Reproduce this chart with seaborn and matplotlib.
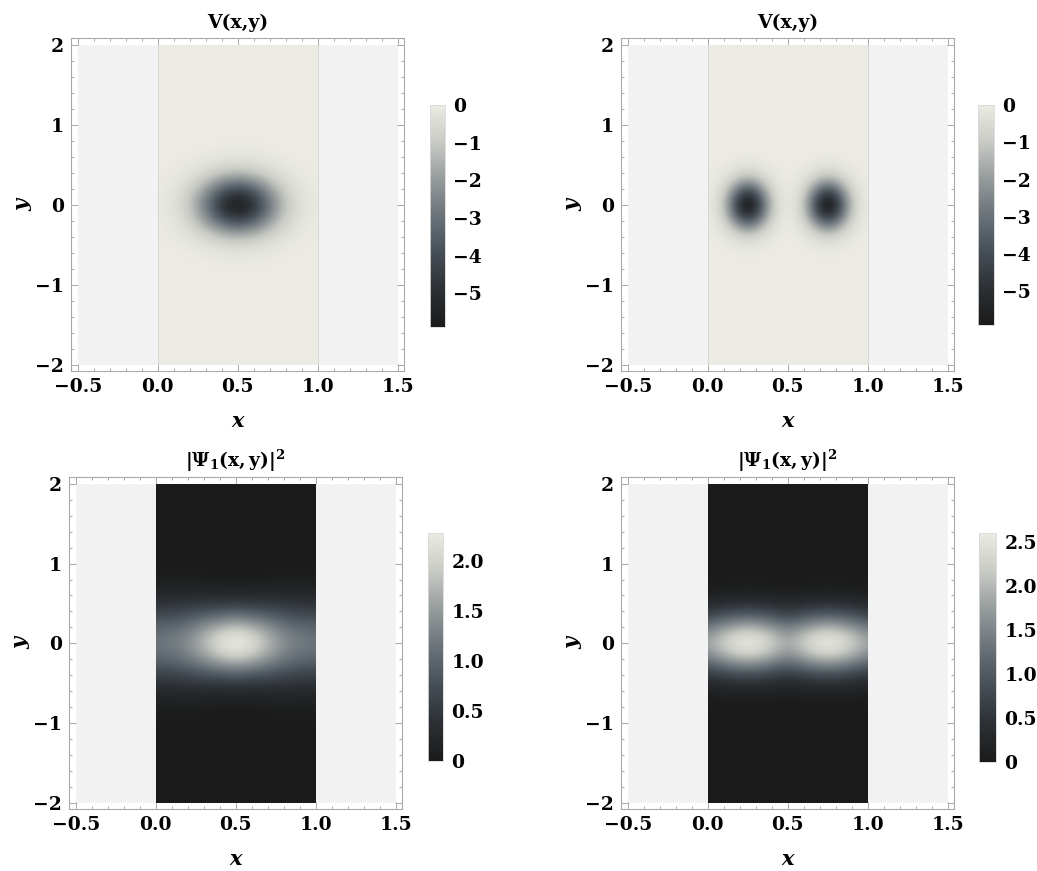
import numpy as np
import matplotlib
matplotlib.use("Agg")
import matplotlib.pyplot as plt
import seaborn as sns
from matplotlib.patches import Rectangle
from matplotlib.colors import Normalize
from matplotlib.cm import ScalarMappable

sns.set_theme(style="ticks")
plt.rcParams["font.family"] = ["DejaVu Serif", "DejaVu Sans"]
plt.rcParams["mathtext.fontset"] = "dejavuserif"
plt.rcParams["text.color"] = "black"
plt.rcParams["axes.labelcolor"] = "black"
plt.rcParams["xtick.labelcolor"] = "black"
plt.rcParams["ytick.labelcolor"] = "black"

# ---------------- data ----------------
# Panel 1: V(x,y), single well (rows = y ascending)
v1_x = [0.0, 0.1, 0.2, 0.3, 0.4, 0.5, 0.6, 0.7, 0.8, 0.9, 1.0]
v1_y = [-0.9, -0.8, -0.7, -0.6, -0.5, -0.4, -0.3, -0.2, -0.1, 0.0,
        0.1, 0.2, 0.3, 0.4, 0.5, 0.6, 0.7, 0.8, 0.9]
v1_z = [
    [0.00, 0.00, 0.00, 0.00, 0.00, 0.00, 0.00, 0.00, 0.00, 0.00, 0.00],
    [0.00, 0.00, 0.00, -0.01, -0.02, -0.02, -0.02, -0.01, 0.00, 0.00, 0.00],
    [0.00, 0.00, -0.01, -0.04, -0.07, -0.08, -0.07, -0.04, -0.01, 0.00, 0.00],
    [0.00, -0.01, -0.04, -0.12, -0.21, -0.26, -0.21, -0.12, -0.04, -0.01, 0.00],
    [-0.01, -0.03, -0.11, -0.30, -0.54, -0.66, -0.54, -0.30, -0.11, -0.03, -0.01],
    [-0.01, -0.06, -0.25, -0.66, -1.19, -1.44, -1.19, -0.66, -0.25, -0.06, -0.01],
    [-0.02, -0.12, -0.46, -1.22, -2.19, -2.66, -2.19, -1.22, -0.46, -0.12, -0.02],
    [-0.03, -0.18, -0.71, -1.88, -3.37, -4.10, -3.37, -1.88, -0.71, -0.18, -0.03],
    [-0.04, -0.23, -0.92, -2.44, -4.38, -5.32, -4.38, -2.44, -0.92, -0.23, -0.04],
    [-0.04, -0.26, -1.00, -2.66, -4.77, -5.80, -4.77, -2.66, -1.00, -0.26, -0.04],
    [-0.04, -0.23, -0.92, -2.44, -4.38, -5.32, -4.38, -2.44, -0.92, -0.23, -0.04],
    [-0.03, -0.18, -0.71, -1.88, -3.37, -4.10, -3.37, -1.88, -0.71, -0.18, -0.03],
    [-0.02, -0.12, -0.46, -1.22, -2.19, -2.66, -2.19, -1.22, -0.46, -0.12, -0.02],
    [-0.01, -0.06, -0.25, -0.66, -1.19, -1.44, -1.19, -0.66, -0.25, -0.06, -0.01],
    [-0.01, -0.03, -0.11, -0.30, -0.54, -0.66, -0.54, -0.30, -0.11, -0.03, -0.01],
    [0.00, -0.01, -0.04, -0.12, -0.21, -0.26, -0.21, -0.12, -0.04, -0.01, 0.00],
    [0.00, 0.00, -0.01, -0.04, -0.07, -0.08, -0.07, -0.04, -0.01, 0.00, 0.00],
    [0.00, 0.00, 0.00, -0.01, -0.02, -0.02, -0.02, -0.01, 0.00, 0.00, 0.00],
    [0.00, 0.00, 0.00, 0.00, 0.00, 0.00, 0.00, 0.00, 0.00, 0.00, 0.00],
]

# Panel 2: V(x,y), double well
v2_x = [0.0, 0.05, 0.1, 0.15, 0.2, 0.25, 0.3, 0.35, 0.4, 0.45, 0.5,
        0.55, 0.6, 0.65, 0.7, 0.75, 0.8, 0.85, 0.9, 0.95, 1.0]
v2_y = [-0.8, -0.7, -0.6, -0.5, -0.4, -0.3, -0.2, -0.1, 0.0,
        0.1, 0.2, 0.3, 0.4, 0.5, 0.6, 0.7, 0.8]
v2_z = [
    [0, 0, 0, 0, 0, 0, 0, 0, 0, 0, 0, 0, 0, 0, 0, 0, 0, 0, 0, 0, 0],
    [0, 0, 0, -0.01, -0.01, -0.01, -0.01, -0.01, 0, 0, 0, 0, 0, -0.01, -0.01, -0.01, -0.01, -0.01, 0, 0, 0],
    [0, 0, -0.01, -0.03, -0.05, -0.06, -0.05, -0.03, -0.01, 0, 0, 0, -0.01, -0.03, -0.05, -0.06, -0.05, -0.03, -0.01, 0, 0],
    [0, -0.02, -0.05, -0.13, -0.21, -0.26, -0.21, -0.13, -0.05, -0.02, -0.01, -0.02, -0.05, -0.13, -0.21, -0.26, -0.21, -0.13, -0.05, -0.02, 0],
    [-0.01, -0.05, -0.16, -0.39, -0.66, -0.78, -0.66, -0.39, -0.16, -0.05, -0.02, -0.05, -0.16, -0.39, -0.66, -0.78, -0.66, -0.39, -0.16, -0.05, -0.01],
    [-0.03, -0.12, -0.40, -0.94, -1.59, -1.89, -1.59, -0.94, -0.40, -0.12, -0.05, -0.12, -0.40, -0.94, -1.59, -1.89, -1.59, -0.94, -0.40, -0.12, -0.03],
    [-0.05, -0.22, -0.74, -1.76, -2.96, -3.52, -2.96, -1.76, -0.74, -0.22, -0.09, -0.22, -0.74, -1.76, -2.96, -3.52, -2.96, -1.76, -0.74, -0.22, -0.05],
    [-0.07, -0.32, -1.08, -2.56, -4.30, -5.12, -4.30, -2.56, -1.08, -0.32, -0.13, -0.32, -1.08, -2.56, -4.30, -5.12, -4.30, -2.56, -1.08, -0.32, -0.07],
    [-0.08, -0.36, -1.22, -2.90, -4.88, -5.80, -4.88, -2.90, -1.22, -0.36, -0.15, -0.36, -1.22, -2.90, -4.88, -5.80, -4.88, -2.90, -1.22, -0.36, -0.08],
    [-0.07, -0.32, -1.08, -2.56, -4.30, -5.12, -4.30, -2.56, -1.08, -0.32, -0.13, -0.32, -1.08, -2.56, -4.30, -5.12, -4.30, -2.56, -1.08, -0.32, -0.07],
    [-0.05, -0.22, -0.74, -1.76, -2.96, -3.52, -2.96, -1.76, -0.74, -0.22, -0.09, -0.22, -0.74, -1.76, -2.96, -3.52, -2.96, -1.76, -0.74, -0.22, -0.05],
    [-0.03, -0.12, -0.40, -0.94, -1.59, -1.89, -1.59, -0.94, -0.40, -0.12, -0.05, -0.12, -0.40, -0.94, -1.59, -1.89, -1.59, -0.94, -0.40, -0.12, -0.03],
    [-0.01, -0.05, -0.16, -0.39, -0.66, -0.78, -0.66, -0.39, -0.16, -0.05, -0.02, -0.05, -0.16, -0.39, -0.66, -0.78, -0.66, -0.39, -0.16, -0.05, -0.01],
    [0, -0.02, -0.05, -0.13, -0.21, -0.26, -0.21, -0.13, -0.05, -0.02, -0.01, -0.02, -0.05, -0.13, -0.21, -0.26, -0.21, -0.13, -0.05, -0.02, 0],
    [0, 0, -0.01, -0.03, -0.05, -0.06, -0.05, -0.03, -0.01, 0, 0, 0, -0.01, -0.03, -0.05, -0.06, -0.05, -0.03, -0.01, 0, 0],
    [0, 0, 0, -0.01, -0.01, -0.01, -0.01, -0.01, 0, 0, 0, 0, 0, -0.01, -0.01, -0.01, -0.01, -0.01, 0, 0, 0],
    [0, 0, 0, 0, 0, 0, 0, 0, 0, 0, 0, 0, 0, 0, 0, 0, 0, 0, 0, 0, 0],
]

# Panel 3: |Psi_1|^2 for the single well
p1_x = [0.0, 0.1, 0.2, 0.3, 0.4, 0.5, 0.6, 0.7, 0.8, 0.9, 1.0]
p1_y = [-1.0, -0.9, -0.8, -0.7, -0.6, -0.5, -0.4, -0.3, -0.2, -0.1, 0.0,
        0.1, 0.2, 0.3, 0.4, 0.5, 0.6, 0.7, 0.8, 0.9, 1.0]
p1_z = [
    [0.02, 0.02, 0.02, 0.01, 0.01, 0.01, 0.01, 0.01, 0.02, 0.02, 0.02],
    [0.04, 0.04, 0.04, 0.03, 0.02, 0.03, 0.02, 0.03, 0.04, 0.04, 0.04],
    [0.08, 0.09, 0.09, 0.08, 0.06, 0.07, 0.06, 0.08, 0.09, 0.09, 0.08],
    [0.16, 0.16, 0.17, 0.16, 0.14, 0.15, 0.14, 0.16, 0.17, 0.16, 0.16],
    [0.26, 0.28, 0.29, 0.30, 0.28, 0.31, 0.28, 0.30, 0.29, 0.28, 0.26],
    [0.41, 0.43, 0.47, 0.51, 0.52, 0.57, 0.52, 0.51, 0.47, 0.43, 0.41],
    [0.60, 0.62, 0.69, 0.79, 0.86, 0.94, 0.86, 0.79, 0.69, 0.62, 0.60],
    [0.80, 0.83, 0.94, 1.11, 1.27, 1.38, 1.27, 1.11, 0.94, 0.83, 0.80],
    [0.98, 1.02, 1.16, 1.42, 1.68, 1.83, 1.68, 1.42, 1.16, 1.02, 0.98],
    [1.10, 1.15, 1.32, 1.64, 1.99, 2.16, 1.99, 1.64, 1.32, 1.15, 1.10],
    [1.15, 1.20, 1.38, 1.72, 2.10, 2.28, 2.10, 1.72, 1.38, 1.20, 1.15],
    [1.10, 1.15, 1.32, 1.64, 1.99, 2.16, 1.99, 1.64, 1.32, 1.15, 1.10],
    [0.98, 1.02, 1.16, 1.42, 1.68, 1.83, 1.68, 1.42, 1.16, 1.02, 0.98],
    [0.80, 0.83, 0.94, 1.11, 1.27, 1.38, 1.27, 1.11, 0.94, 0.83, 0.80],
    [0.60, 0.62, 0.69, 0.79, 0.86, 0.94, 0.86, 0.79, 0.69, 0.62, 0.60],
    [0.41, 0.43, 0.47, 0.51, 0.52, 0.57, 0.52, 0.51, 0.47, 0.43, 0.41],
    [0.26, 0.28, 0.29, 0.30, 0.28, 0.31, 0.28, 0.30, 0.29, 0.28, 0.26],
    [0.16, 0.16, 0.17, 0.16, 0.14, 0.15, 0.14, 0.16, 0.17, 0.16, 0.16],
    [0.08, 0.09, 0.09, 0.08, 0.06, 0.07, 0.06, 0.08, 0.09, 0.09, 0.08],
    [0.04, 0.04, 0.04, 0.03, 0.02, 0.03, 0.02, 0.03, 0.04, 0.04, 0.04],
    [0.02, 0.02, 0.02, 0.01, 0.01, 0.01, 0.01, 0.01, 0.02, 0.02, 0.02],
]

# Panel 4: |Psi_1|^2 for the double well
p2_x = [0.0, 0.125, 0.25, 0.375, 0.5, 0.625, 0.75, 0.875, 1.0]
p2_y = [-0.9, -0.8, -0.7, -0.6, -0.5, -0.4, -0.3, -0.2, -0.1, 0.0,
        0.1, 0.2, 0.3, 0.4, 0.5, 0.6, 0.7, 0.8, 0.9]
p2_z = [
    [0.01, 0.01, 0.01, 0.01, 0.01, 0.01, 0.01, 0.01, 0.01],
    [0.02, 0.03, 0.03, 0.03, 0.02, 0.03, 0.03, 0.03, 0.02],
    [0.06, 0.08, 0.09, 0.08, 0.06, 0.08, 0.09, 0.08, 0.06],
    [0.15, 0.19, 0.22, 0.19, 0.15, 0.19, 0.22, 0.19, 0.15],
    [0.32, 0.41, 0.47, 0.41, 0.32, 0.41, 0.47, 0.41, 0.32],
    [0.58, 0.77, 0.87, 0.77, 0.58, 0.77, 0.87, 0.77, 0.58],
    [0.94, 1.24, 1.40, 1.24, 0.94, 1.24, 1.40, 1.24, 0.94],
    [1.33, 1.75, 1.98, 1.75, 1.33, 1.75, 1.98, 1.75, 1.33],
    [1.63, 2.15, 2.43, 2.15, 1.63, 2.15, 2.43, 2.15, 1.63],
    [1.75, 2.30, 2.60, 2.30, 1.75, 2.30, 2.60, 2.30, 1.75],
    [1.63, 2.15, 2.43, 2.15, 1.63, 2.15, 2.43, 2.15, 1.63],
    [1.33, 1.75, 1.98, 1.75, 1.33, 1.75, 1.98, 1.75, 1.33],
    [0.94, 1.24, 1.40, 1.24, 0.94, 1.24, 1.40, 1.24, 0.94],
    [0.58, 0.77, 0.87, 0.77, 0.58, 0.77, 0.87, 0.77, 0.58],
    [0.32, 0.41, 0.47, 0.41, 0.32, 0.41, 0.47, 0.41, 0.32],
    [0.15, 0.19, 0.22, 0.19, 0.15, 0.19, 0.22, 0.19, 0.15],
    [0.06, 0.08, 0.09, 0.08, 0.06, 0.08, 0.09, 0.08, 0.06],
    [0.02, 0.03, 0.03, 0.03, 0.02, 0.03, 0.03, 0.03, 0.02],
    [0.01, 0.01, 0.01, 0.01, 0.01, 0.01, 0.01, 0.01, 0.01],
]

x_ticks = [-0.5, 0.0, 0.5, 1.0, 1.5]
x_tick_labels = ["\u22120.5", "0.0", "0.5", "1.0", "1.5"]
y_ticks = [-2, -1, 0, 1, 2]
y_tick_labels = ["\u22122", "\u22121", "0", "1", "2"]
v_cticks = [0, -1, -2, -3, -4, -5]
v_clabels = ["0", "\u22121", "\u22122", "\u22123", "\u22124", "\u22125"]
p1_cticks = [0, 0.5, 1.0, 1.5, 2.0]
p1_clabels = ["0", "0.5", "1.0", "1.5", "2.0"]
p2_cticks = [0, 0.5, 1.0, 1.5, 2.0, 2.5]
p2_clabels = ["0", "0.5", "1.0", "1.5", "2.0", "2.5"]

# Mathematica-like "GrayTones"
cmap = sns.blend_palette(["#1a1a1a", "#2c3034", "#464e56", "#6a7379",
                          "#969b9c", "#c8cac4", "#ebebe3"], n_colors=256, as_cmap=True)

W, H = 1037, 871
fig = plt.figure(figsize=(W / 100, H / 100), dpi=100)
FS = 13.5
FRAME = "#a9a9a9"


def px_axes(left, top, right, bottom):
    return fig.add_axes([left / W, 1 - bottom / H, (right - left) / W, (bottom - top) / H])


def panel(ax, cax, xs, ys, z, vmin, vmax, bg, title, cticks, clabels, edge_lines):
    norm = Normalize(vmin=vmin, vmax=vmax)
    xs = np.asarray(xs); ys = np.asarray(ys)
    dx = xs[1] - xs[0]; dy = ys[1] - ys[0]
    ax.set_facecolor("white")
    ax.add_patch(Rectangle((-0.5, -2), 2, 4, facecolor="#f2f2f2", edgecolor="none", zorder=0))
    ax.add_patch(Rectangle((0, -2), 1, 4, facecolor=cmap(norm(bg)), edgecolor="none", zorder=1))
    im = ax.imshow(np.asarray(z, dtype=float), origin="lower",
                   extent=[xs[0] - dx / 2, xs[-1] + dx / 2, ys[0] - dy / 2, ys[-1] + dy / 2],
                   cmap=cmap, norm=norm, interpolation="bicubic",
                   interpolation_stage="data", aspect="auto", zorder=2)
    im.set_clip_path(Rectangle((0, -2), 1, 4, transform=ax.transData))
    if edge_lines:
        ax.vlines([0, 1], -2, 2, colors="#d6d6d2", linewidth=0.7, zorder=3)
    ax.set_xlim(-0.5 - 7 / 160, 1.5 + 6.5 / 160)
    ax.set_ylim(-2 - 6.5 / 80, 2 + 7 / 80)
    ax.set_xticks(x_ticks)
    ax.set_xticklabels(x_tick_labels)
    ax.set_yticks(y_ticks)
    ax.set_yticklabels(y_tick_labels)
    ax.set_xticks(np.arange(-0.5, 1.51, 0.1), minor=True)
    ax.set_yticks(np.arange(-2, 2.01, 0.2), minor=True)
    ax.tick_params(which="both", direction="in", top=True, right=True,
                   color=FRAME, width=0.7)
    ax.tick_params(which="major", length=5, pad=5, labelsize=FS, labelcolor="black")
    ax.tick_params(which="minor", length=2.5)
    for lab in ax.get_xticklabels() + ax.get_yticklabels():
        lab.set_fontweight("bold")
    for s in ax.spines.values():
        s.set_color(FRAME)
        s.set_linewidth(0.8)
    ax.set_title(title, fontsize=13.5, fontweight="bold", pad=7, color="black")
    ax.set_xlabel("x", fontsize=15, fontweight="bold", fontstyle="italic", labelpad=11)
    ax.set_ylabel("y", fontsize=15, fontweight="bold", fontstyle="italic")
    ax.yaxis.set_label_coords(-0.117, 0.5)

    cb = fig.colorbar(ScalarMappable(norm=norm, cmap=cmap), cax=cax)
    cb.outline.set_edgecolor("#d8d8d8")
    cb.outline.set_linewidth(0.6)
    cb.set_ticks(cticks)
    cb.set_ticklabels(clabels)
    cax.tick_params(length=0, pad=6, labelsize=FS, labelcolor="black")
    for lab in cax.get_yticklabels():
        lab.set_fontweight("bold")


psi_title = r"$\mathbf{|\Psi_1(x,y)|^2}$"

ax1 = px_axes(71, 38, 404, 371)
ax2 = px_axes(621, 38, 954, 371)
ax3 = px_axes(69, 477, 402, 809)
ax4 = px_axes(621, 477, 954, 809)
c1 = px_axes(430, 105, 445, 327)
c2 = px_axes(978, 105, 994, 325)
c3 = px_axes(428, 533, 443, 761)
c4 = px_axes(979, 533, 996, 762)

panel(ax1, c1, v1_x, v1_y, v1_z, -5.9, 0.0, 0.0, "V(x,y)", v_cticks, v_clabels, True)
panel(ax2, c2, v2_x, v2_y, v2_z, -5.9, 0.0, 0.0, "V(x,y)", v_cticks, v_clabels, True)
panel(ax3, c3, p1_x, p1_y, p1_z, 0.0, 2.28, 0.0, psi_title, p1_cticks, p1_clabels, False)
panel(ax4, c4, p2_x, p2_y, p2_z, 0.0, 2.6, 0.0, psi_title, p2_cticks, p2_clabels, False)

fig.savefig("out.png", dpi=100)
